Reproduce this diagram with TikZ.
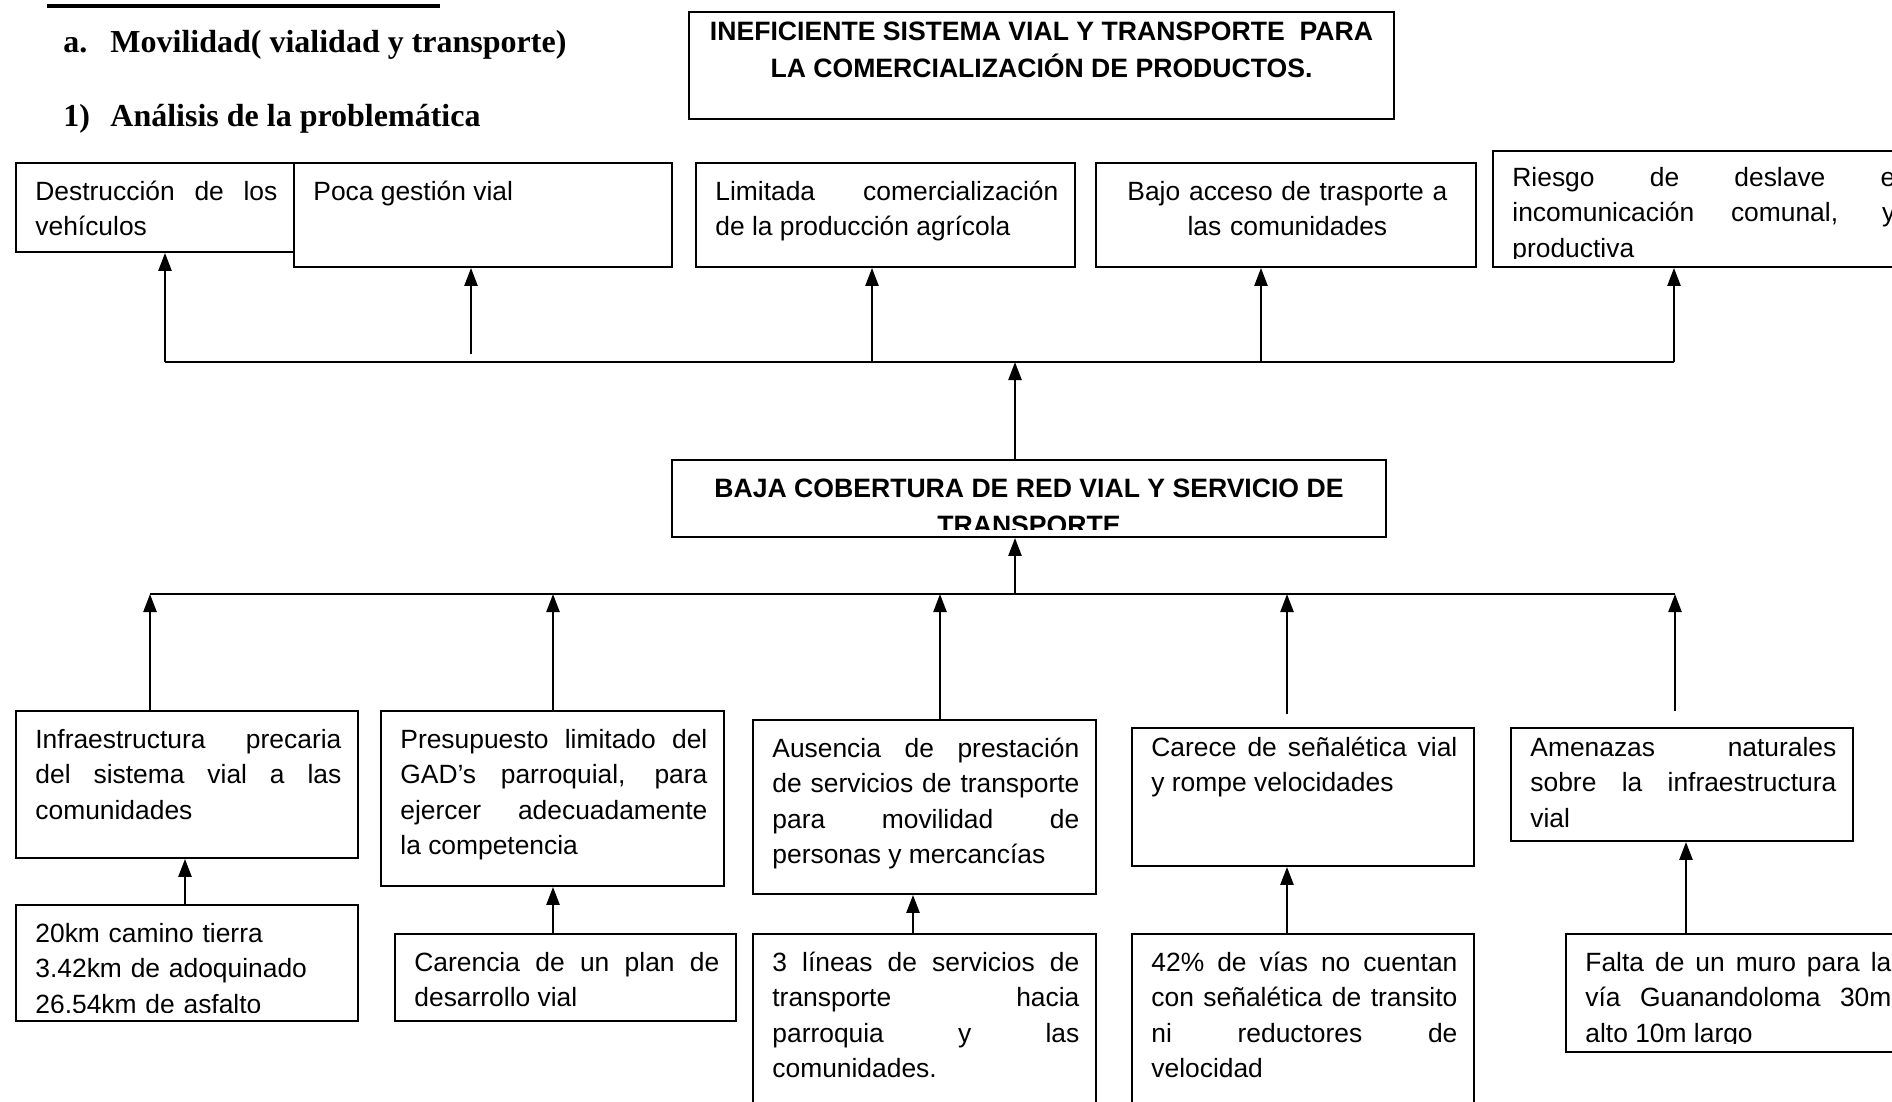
\documentclass[tikz,border=0pt]{standalone}
\usepackage{fontspec}
\setmainfont{Liberation Sans}
\newfontfamily\headfont{Liberation Serif}
\usetikzlibrary{arrows.meta,fit}
\hyphenpenalty=10000
\exhyphenpenalty=10000
\tolerance=10000
\hbadness=10000
\hfuzz=10pt

\tikzset{
  boxst/.style={draw, line width=0.9pt, fill=white, inner sep=0pt},
  txt/.style={anchor=north west, inner sep=0pt, font=\fontsize{13.2pt}{17.75pt}\selectfont},
  ttl/.style={anchor=north, inner sep=0pt, align=center, font=\fontsize{13.3pt}{18.5pt}\selectfont\bfseries},
  hd/.style={anchor=base west, inner sep=0pt, font=\headfont\fontsize{16pt}{19pt}\selectfont\bfseries},
  bus/.style={line width=1.2pt},
  arr/.style={line width=1.2pt, -{Triangle[length=9pt,width=6.5pt]}},
}

% framed text box: [text offset], name, top-left x/y, bottom-right x/y, alignment, text
\newcommand\cbox[8][12]{%
  \node[boxst, fit={(#3,#4) (#5,#6)}] (#2) {};
  \begin{scope}
    \clip (#3,#4) rectangle (#5,#6-9);
    \pgfmathsetmacro\boxtw{(#5-#3-36)*0.5}%
    \node[txt, text width=\boxtw pt, align=#7] (#2-t) at (#3+19,#4+#1) {\strut #8};
  \end{scope}}

\begin{document}
\begin{tikzpicture}[x=0.5pt,y=-0.5pt]
\clip (0,0) rectangle (1892,1102);
\fill[white] (0,0) rectangle (1892,1102);

% headings
\coordinate (ul1) at (47,6);
\coordinate (ul2) at (440,6);
\draw[line width=2pt] (ul1) -- (ul2);
\node[hd] (ha) at (63,53) {a.};
\node[hd] (hat) at (110,53) {Movilidad( vialidad y transporte)};
\node[hd] (hb) at (63,127) {1)};
\node[hd] (hbt) at (110,127) {Análisis de la problemática};

% main effect
\node[draw, line width=0.7pt, inner sep=0pt, fit={(689,12) (1394,119)}] (effect) {};
\node[ttl] (effect-t) at (1041.5,14.6) {\strut INEFICIENTE SISTEMA VIAL Y TRANSPORTE\ \ PARA\\LA COMERCIALIZACIÓN DE PRODUCTOS.};

% effects
\cbox{e1}{16}{163}{294}{252}{justify}{Destrucción de los\linebreak vehículos}
\cbox{e2}{294}{163}{672}{267}{justify}{Poca gestión vial}
\cbox{e3}{696}{163}{1075}{267}{justify}{Limitada comercialización\linebreak de la producción agrícola}
\cbox{e4}{1096}{163}{1476}{267}{center}{Bajo acceso de trasporte a\\las comunidades}
\cbox[10]{e5}{1493}{151}{1912}{267}{justify}{Riesgo de deslave e\linebreak incomunicación comunal, y\linebreak productiva}

% central problem
\node[boxst, fit={(672,460) (1386,537)}] (core) {};
\begin{scope}
  \clip (672,460) rectangle (1386,529);
  \node[ttl] (core-t) at (1029,471) {\strut BAJA COBERTURA DE RED VIAL Y SERVICIO DE\\TRANSPORTE};
\end{scope}

% causes
\cbox{c1}{16}{711}{358}{858}{justify}{Infraestructura precaria\linebreak del sistema vial a las\linebreak comunidades}
\cbox{c2}{381}{711}{724}{886}{justify}{Presupuesto limitado del\linebreak GAD’s parroquial, para\linebreak ejercer adecuadamente\linebreak la competencia}
\cbox{c3}{753}{720}{1096}{894}{justify}{Ausencia de prestación\linebreak de servicios de transporte\linebreak para movilidad de\linebreak personas y mercancías}
\cbox[3]{c4}{1132}{728}{1474}{866}{justify}{Carece de señalética vial\linebreak y rompe velocidades}
\cbox[3]{c5}{1511}{728}{1853}{841}{justify}{Amenazas naturales\linebreak sobre la infraestructura\linebreak vial}

% root causes
\cbox{r1}{16}{905}{358}{1021}{left}{20km camino tierra\\3.42km de adoquinado\\26.54km de asfalto}
\cbox{r2}{395}{934}{736}{1021}{justify}{Carencia de un plan de\linebreak desarrollo vial}
\cbox{r3}{753}{934}{1096}{1130}{justify}{3 líneas de servicios de\linebreak transporte hacia\linebreak parroquia y las\linebreak comunidades.}
\cbox{r4}{1132}{934}{1474}{1130}{justify}{42\% de vías no cuentan\linebreak con señalética de transito\linebreak ni reductores de\linebreak velocidad}
\cbox{r5}{1566}{934}{1908}{1052}{justify}{Falta de un muro para la\linebreak vía Guanandoloma 30m\linebreak alto 10m largo}

% upper bus: central problem to effects
\coordinate (eb1) at (165,362);
\coordinate (eb2) at (471,354);
\coordinate (eb3) at (872,362);
\coordinate (eb4) at (1261,362);
\coordinate (eb5) at (1674,362);
\coordinate (ebc) at (1015,362);
\draw[bus] (eb1) -- (eb5);
\draw[arr] (eb1) -- (eb1 |- e1.south);
\draw[arr] (eb2) -- (eb2 |- e2.south);
\draw[arr] (eb3) -- (eb3 |- e3.south);
\draw[arr] (eb4) -- (eb4 |- e4.south);
\draw[arr] (eb5) -- (eb5 |- e5.south);
\draw[arr] (ebc |- core.north) -- (ebc);

% lower bus: causes to central problem
\coordinate (cb1) at (150,594);
\coordinate (cb2) at (553,594);
\coordinate (cb3) at (940,594);
\coordinate (cb4) at (1287,594);
\coordinate (cb5) at (1675,594);
\coordinate (cbc) at (1015,594);
\coordinate (c4top) at (1287,714);
\coordinate (c5top) at (1675,711);
\draw[bus] (cb1) -- (cb5);
\draw[arr] (cbc) -- (cbc |- core.south);
\draw[arr] (cb1 |- c1.north) -- (cb1);
\draw[arr] (cb2 |- c2.north) -- (cb2);
\draw[arr] (cb3 |- c3.north) -- (cb3);
\draw[arr] (c4top) -- (cb4);
\draw[arr] (c5top) -- (cb5);

% root causes to causes
\coordinate (ra1) at (185,905);
\coordinate (ra2) at (553,934);
\coordinate (ra3) at (913,934);
\coordinate (ra4) at (1287,934);
\coordinate (ra5) at (1686,934);
\draw[arr] (ra1) -- (ra1 |- c1.south);
\draw[arr] (ra2) -- (ra2 |- c2.south);
\draw[arr] (ra3) -- (ra3 |- c3.south);
\draw[arr] (ra4) -- (ra4 |- c4.south);
\draw[arr] (ra5) -- (ra5 |- c5.south);
\end{tikzpicture}
\end{document}
